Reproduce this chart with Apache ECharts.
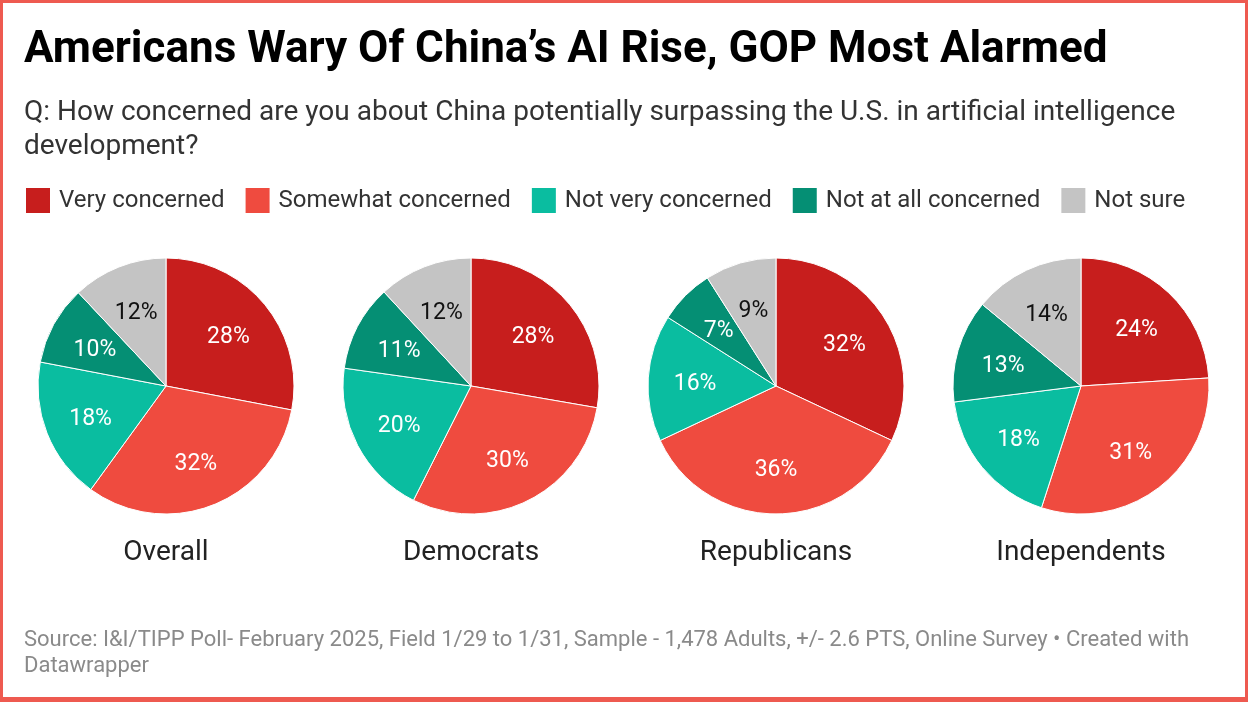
<!DOCTYPE html>
<html><head><meta charset="utf-8">
<script src="https://cdn.jsdelivr.net/npm/echarts@6/dist/echarts.min.js"></script>
<style>
html,body{margin:0;padding:0;background:#fff;}
#chart{position:absolute;left:0;top:0;width:1248px;height:702px;}
#frame{position:absolute;left:0;top:0;width:1248px;height:702px;box-sizing:border-box;border:3px solid #ee5a50;border-bottom-width:5px;pointer-events:none;}
</style></head>
<body>
<div id="chart"></div><div id="frame"></div>
<script>
const categories = ['Very concerned','Somewhat concerned','Not very concerned','Not at all concerned','Not sure'];
const groups = ['Overall','Democrats','Republicans','Independents'];
const overall = [28,32,18,10,12];
const democrats = [28,30,20,11,12];
const republicans = [32,36,16,7,9];
const independents = [24,31,18,13,14];
const colors = ['#c71e1d','#ef4b3f','#0abda0','#058f74','#c4c4c4'];
const labelColors = ['#fff','#fff','#fff','#fff','#111'];

const groupValues = [overall, democrats, republicans, independents];
const centersX = [166,471,776,1081];
const cy = 386, R = 128;
const font = 'Roboto, "Noto Sans", sans-serif';

const series = [];
groupValues.forEach((vals, gi) => {
  const data = vals.map((v,i)=>({name:categories[i], value:v, itemStyle:{color:colors[i]}}));
  series.push({
    type:'pie', center:[centersX[gi],cy], radius:[0,R], startAngle:90, clockwise:true,
    animation:false, silent:true, label:{show:false}, labelLine:{show:false},
    itemStyle:{borderColor:'#fff',borderWidth:1},
    emphasis:{disabled:true},
    data
  });
});
groupValues.forEach((vals, gi) => {
  const data = vals.map((v,i)=>({name:categories[i], value:v,
    itemStyle:{color:'rgba(0,0,0,0)'},
    label:{color:labelColors[i]}}));
  series.push({
    type:'pie', center:[centersX[gi],cy+3], radius:[0,R*1.22], startAngle:90, clockwise:true,
    animation:false, silent:true, legendHoverLink:false,
    label:{show:true, position:'inside', formatter:'{c}%', fontSize:23, fontFamily:font},
    labelLine:{show:false}, itemStyle:{borderWidth:0},
    emphasis:{disabled:true},
    data
  });
});

const graphic = [
  {type:'text', x:24, y:51, style:{text:"Americans Wary Of China’s AI Rise, GOP Most Alarmed", font:'bold 44px '+font, fill:'#000', textVerticalAlign:'middle'}},
  {type:'text', left:24, top:96, style:{text:'Q: How concerned are you about China potentially surpassing the U.S. in artificial intelligence\ndevelopment?', font:'28px '+font, fill:'#333', lineHeight:34}},
  {type:'text', left:24, top:627, style:{text:'Source: I&I/TIPP Poll- February 2025, Field 1/29 to 1/31, Sample - 1,478 Adults, +/- 2.6 PTS, Online Survey • Created with\nDatawrapper', font:'22px '+font, fill:'#8a8a8a', lineHeight:26}}
];
groups.forEach((g,gi)=>{
  graphic.push({type:'text', x:centersX[gi], y:553, style:{text:g, font:'28px '+font, fill:'#222', textAlign:'center', textVerticalAlign:'middle'}});
});

const chart = echarts.init(document.getElementById('chart'));
chart.setOption({
  backgroundColor:'#fff',
  animation:false,
  legend:{
    left:24, top:186, padding:0, itemWidth:26, itemHeight:27, itemGap:19, selectedMode:false,
    icon:'rect',
    textStyle:{fontSize:24, fontFamily:font, color:'#333', padding:[0,0,0,3]},
    data: categories.map((c,i)=>({name:c, itemStyle:{color:colors[i]}}))
  },
  graphic,
  series
});
</script>
</body></html>
